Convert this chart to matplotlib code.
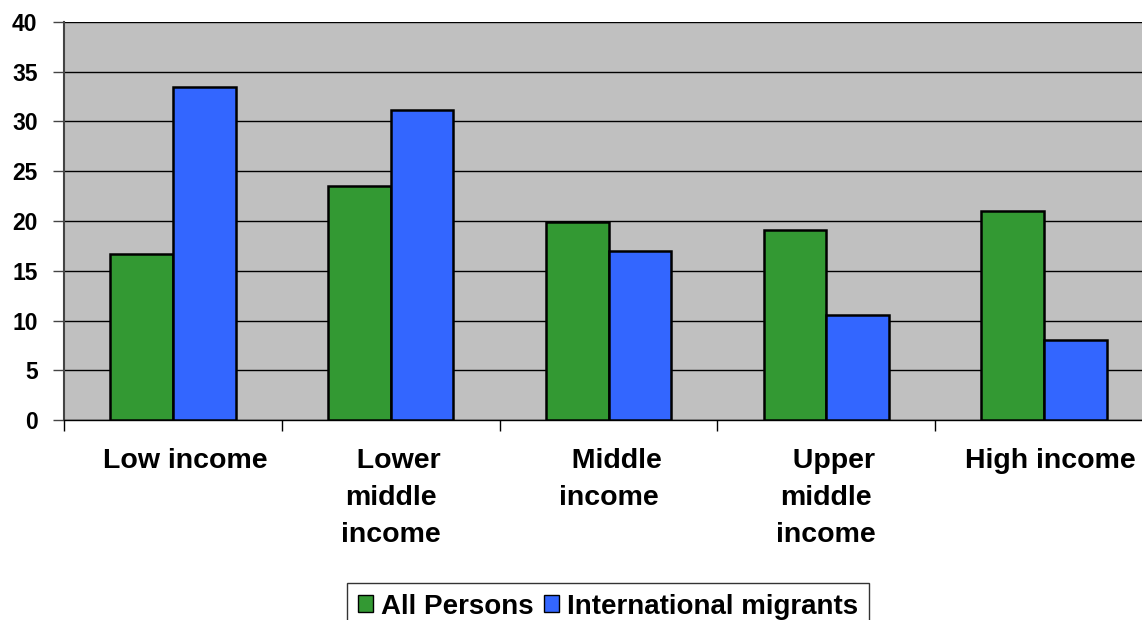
import matplotlib
matplotlib.use("Agg")
import matplotlib.pyplot as plt
import numpy as np
from matplotlib.patches import Patch

categories = ["Low income", "  Lower\nmiddle\nincome", "  Middle\nincome",
              "  Upper\nmiddle\nincome", "High income"]
all_persons = [16.7, 23.5, 19.9, 19.1, 21.0]
intl_migrants = [33.5, 31.2, 17.0, 10.6, 8.0]
yticks = [0, 5, 10, 15, 20, 25, 30, 35, 40]

GREEN = "#339933"
BLUE = "#3366FF"
FONT = "Liberation Sans"

fig = plt.figure(figsize=(11.42, 6.2), dpi=100)
W, H = 1142, 620
# plot area in pixel terms: x 64..1153, y 22..420
ax = fig.add_axes([64 / W, (H - 420) / H, (1153 - 64) / W, 398 / H])
ax.set_facecolor("#C0C0C0")

x = np.arange(len(categories)) + 0.5
bw = 0.288
ax.bar(x - bw / 2, all_persons, bw, color=GREEN, edgecolor="black",
       linewidth=1.8, zorder=3)
ax.bar(x + bw / 2, intl_migrants, bw, color=BLUE, edgecolor="black",
       linewidth=1.8, zorder=3)

ax.set_xlim(0, len(categories))
ax.set_ylim(0, 40)
ax.set_yticks(yticks)
ax.set_yticklabels([str(v) for v in yticks], fontfamily=FONT,
                   fontweight="bold", fontsize=16.5)
ax.yaxis.grid(True, color="black", linewidth=1.0, zorder=1)
ax.set_axisbelow(True)

ax.set_xticks(np.arange(len(categories) + 1))
ax.set_xticklabels([])
ax.tick_params(axis="x", length=8, width=1, color="black", direction="out")
ax.tick_params(axis="y", length=8, width=1, color="#444444", direction="out", pad=11)

for s in ["top", "right"]:
    ax.spines[s].set_visible(False)
ax.spines["left"].set_color("#444444")
ax.spines["left"].set_linewidth(1.5)
ax.spines["bottom"].set_color("black")
ax.spines["bottom"].set_linewidth(1.0)

# small horizontal nudges (in category units) for the single-line labels
nudges = [0.055, 0.0, 0.0, 0.0, 0.03]
for xi, lab, dx in zip(x, categories, nudges):
    ax.text(xi + dx, -2.85, lab, ha="center", va="top", fontfamily=FONT,
            fontweight="bold", fontsize=20.5, linespacing=1.53,
            multialignment="center", clip_on=False)

handles = [Patch(facecolor=GREEN, edgecolor="black", label="All Persons"),
           Patch(facecolor=BLUE, edgecolor="black", label="International migrants")]
leg = fig.legend(handles=handles, loc="upper center",
                 bbox_to_anchor=(608 / W, 1 - 583 / H),
                 ncol=2, frameon=True, fancybox=False, edgecolor="black",
                 prop={"family": FONT, "weight": "bold", "size": 20},
                 handlelength=0.55, handleheight=0.55, handletextpad=0.3,
                 columnspacing=0.35, borderpad=0.38, borderaxespad=0)
leg.get_frame().set_linewidth(1.0)

fig.savefig("out.png", dpi=100, facecolor="white")
